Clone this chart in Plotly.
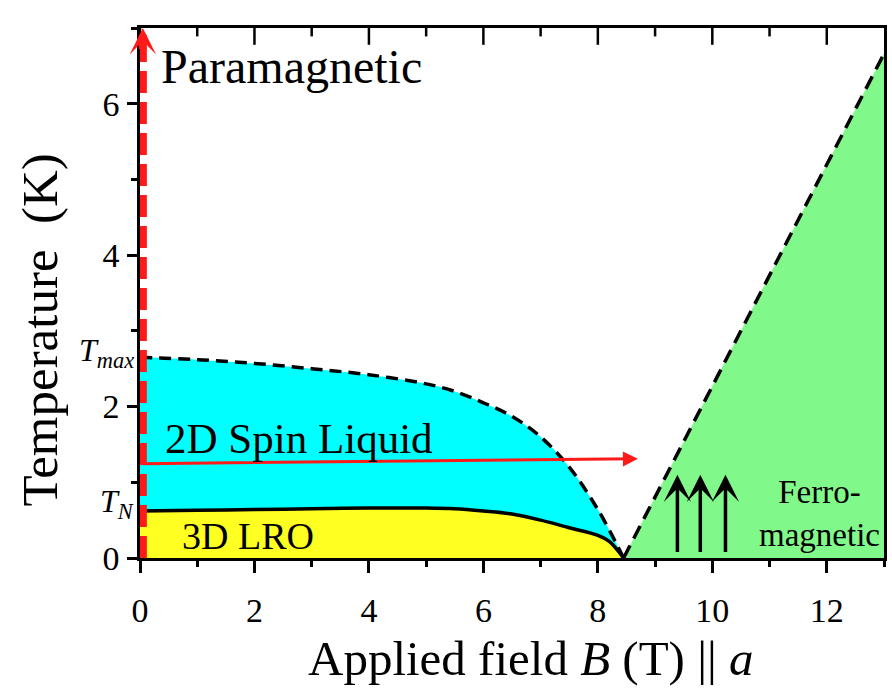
import plotly.graph_objects as go

# ---- data ----
field_upper = [0, 1, 2, 3, 4, 5, 5.5, 6, 6.5, 7, 7.5, 8, 8.45]
t_upper = [2.65, 2.62, 2.57, 2.5, 2.42, 2.3, 2.2, 2.05, 1.87, 1.6, 1.2, 0.64, 0]

field_lower = [0, 1, 2, 3, 4, 5, 5.5, 6, 6.5, 7, 7.5, 8, 8.2, 8.45]
t_lower = [0.62, 0.63, 0.64, 0.65, 0.66, 0.66, 0.65, 0.62, 0.58, 0.5, 0.4, 0.3, 0.22, 0]

field_base = [0, 8.45]
t_base = [0, 0]

field_ferro = [8.45, 13, 13]
t_ferro = [0, 6.66, 0]

# arrows: (tip_x, tip_y, tail_x, tail_y)
red_vertical_line_x = [0.05, 0.05]
red_vertical_line_y = [0, 6.75]
red_vertical_head = (0.05, 7.0, 0.05, 6.7)
red_horizontal = (8.7, 1.31, 0.03, 1.245)
ferro_arrows_x = [9.39, 9.79, 10.23]
ferro_arrows_tip = 1.1
ferro_arrows_tail = 0.06

x_range = [0, 13]
y_range = [0, 7]
x_ticks = [0, 2, 4, 6, 8, 10, 12]
x_minor_ticks = [1, 3, 5, 7, 9, 11]
y_ticks = [0, 2, 4, 6]

FONT = "Liberation Serif"
CYAN = "#00FFFF"
YELLOW = "#FFFF22"
GREEN = "#80F98A"
RED = "#FF1A1A"

fig = go.Figure()

# baseline (invisible) for yellow fill
fig.add_trace(go.Scatter(x=field_base, y=t_base, mode="lines",
                         line=dict(width=0, color="rgba(0,0,0,0)"), hoverinfo="skip"))
# yellow: 3D LRO
fig.add_trace(go.Scatter(x=field_lower, y=t_lower, mode="lines", fill="tonexty",
                         fillcolor=YELLOW, line=dict(width=0, shape="spline", color=YELLOW),
                         hoverinfo="skip"))
# cyan: 2D spin liquid
fig.add_trace(go.Scatter(x=field_upper, y=t_upper, mode="lines", fill="tonexty",
                         fillcolor=CYAN, line=dict(width=0, shape="spline", color=CYAN),
                         hoverinfo="skip"))
# green: ferromagnetic
fig.add_trace(go.Scatter(x=field_ferro, y=t_ferro, mode="lines", fill="toself",
                         fillcolor=GREEN, line=dict(width=0, color=GREEN), hoverinfo="skip"))

# boundary lines
fig.add_trace(go.Scatter(x=field_lower, y=t_lower, mode="lines",
                         line=dict(width=3.5, color="black", shape="spline"), hoverinfo="skip"))
fig.add_trace(go.Scatter(x=field_upper, y=t_upper, mode="lines",
                         line=dict(width=3.5, color="black", shape="spline", dash="12px,7px"),
                         hoverinfo="skip"))
fig.add_trace(go.Scatter(x=field_ferro[:2], y=t_ferro[:2], mode="lines",
                         line=dict(width=3.5, color="black", dash="14px,8px"), hoverinfo="skip"))

# red dashed vertical line
fig.add_trace(go.Scatter(x=red_vertical_line_x, y=red_vertical_line_y, mode="lines",
                         line=dict(width=8, color=RED, dash="22px,9px"), hoverinfo="skip"))

# top tick row: vertical line markers centred on the top edge, upper half clipped
fig.add_trace(go.Scatter(x=x_ticks, y=[y_range[1]] * len(x_ticks), mode="markers",
                         cliponaxis=True, hoverinfo="skip",
                         marker=dict(symbol="line-ns", size=24, color="black",
                                     line=dict(width=2.5, color="black"))))
fig.add_trace(go.Scatter(x=x_minor_ticks, y=[y_range[1]] * len(x_minor_ticks), mode="markers",
                         cliponaxis=True, hoverinfo="skip",
                         marker=dict(symbol="line-ns", size=12, color="black",
                                     line=dict(width=2.5, color="black"))))

annotations = []

# red vertical arrow head
hx, hy, tx, ty = red_vertical_head
annotations.append(dict(x=hx, y=hy, ax=tx, ay=ty, xref="x", yref="y", axref="x", ayref="y",
                        text="", showarrow=True, arrowhead=3, arrowsize=0.55, arrowwidth=8,
                        arrowcolor=RED))
# red horizontal arrow
hx, hy, tx, ty = red_horizontal
annotations.append(dict(x=hx, y=hy, ax=tx, ay=ty, xref="x", yref="y", axref="x", ayref="y",
                        text="", showarrow=True, arrowhead=2, arrowsize=1, arrowwidth=3,
                        arrowcolor=RED))
# ferromagnetic spin arrows
for fx in ferro_arrows_x:
    annotations.append(dict(x=fx, y=ferro_arrows_tip, ax=fx, ay=ferro_arrows_tail,
                            xref="x", yref="y", axref="x", ayref="y",
                            text="", showarrow=True, arrowhead=3, arrowsize=1.3, arrowwidth=3.5,
                            arrowcolor="black"))

# region labels
annotations += [
    dict(x=0.33, y=6.49, xref="x", yref="y", text="Paramagnetic", showarrow=False,
         xanchor="left", yanchor="middle", font=dict(family=FONT, size=48, color="black")),
    dict(x=0.4, y=1.58, xref="x", yref="y", text="2D Spin Liquid", showarrow=False,
         xanchor="left", yanchor="middle", font=dict(family=FONT, size=43, color="black")),
    dict(x=0.7, y=0.29, xref="x", yref="y", text="3D LRO", showarrow=False,
         xanchor="left", yanchor="middle", font=dict(family=FONT, size=38, color="black")),
    dict(x=11.87, y=0.59, xref="x", yref="y", text="Ferro-<br>magnetic", showarrow=False,
         xanchor="center", yanchor="middle", align="center",
         font=dict(family=FONT, size=33, color="black")),
]

# special temperature labels left of axis
annotations += [
    dict(x=-0.006, y=2.72, xref="paper", yref="y", text="<i>T<sub>max</sub></i>",
         showarrow=False, xanchor="right", yanchor="middle",
         font=dict(family=FONT, size=32, color="black")),
    dict(x=-0.006, y=0.72, xref="paper", yref="y", text="<i>T<sub>N</sub></i>",
         showarrow=False, xanchor="right", yanchor="middle",
         font=dict(family=FONT, size=32, color="black")),
]

# axis titles
annotations += [
    dict(x=-0.134, y=0.43, xref="paper", yref="paper", text="Temperature&nbsp; (K)",
         textangle=-90, showarrow=False, xanchor="center", yanchor="middle",
         font=dict(family=FONT, size=51, color="black")),
    dict(x=0.525, y=-0.19, xref="paper", yref="paper",
         text="Applied field <i>B</i> (T) || <i>a</i>", showarrow=False,
         xanchor="center", yanchor="middle", font=dict(family=FONT, size=49, color="black")),
]

axis_common = dict(showgrid=False, zeroline=False, showline=True, linecolor="black",
                   linewidth=2.5, mirror=True, tickcolor="black", tickwidth=2.5,
                   tickfont=dict(family=FONT, size=34, color="black"))

fig.update_layout(
    width=892, height=691,
    margin=dict(l=140, r=5, t=28, b=133),
    plot_bgcolor="white", paper_bgcolor="white",
    showlegend=False,
    hovermode=False,
    font=dict(family=FONT, color="black"),
    xaxis=dict(range=x_range, tickvals=x_ticks, ticks="outside", ticklen=12,
               ticklabelstandoff=8,
               minor=dict(dtick=1, ticks="outside", ticklen=6, tickcolor="black", tickwidth=2.5),
               **axis_common),
    yaxis=dict(range=y_range, tickvals=y_ticks, ticks="outside", ticklen=10,
               ticklabelstandoff=1,
               minor=dict(dtick=1, ticks="outside", ticklen=6, tickcolor="black", tickwidth=2.5),
               **axis_common),
    annotations=annotations,
)

fig.write_html("out.html", config={"displayModeBar": False},
               post_script="document.body.style.margin='0px';")
